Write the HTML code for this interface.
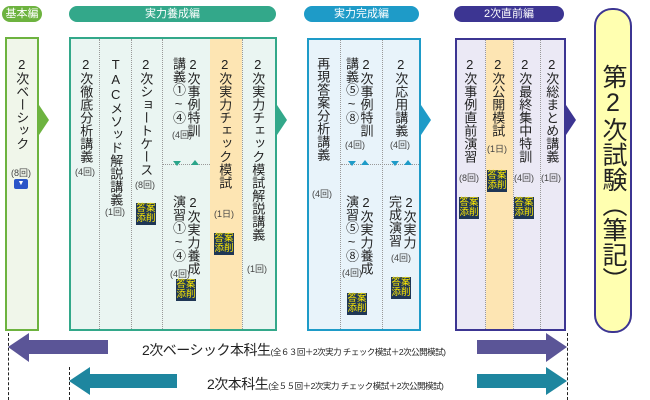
<!DOCTYPE html>
<html><head><meta charset="utf-8"><style>
body{margin:0;width:650px;height:400px;background:#fff;position:relative;overflow:hidden;font-family:"Liberation Sans","Noto Sans CJK JP",sans-serif;color:#222}
div{box-sizing:border-box}
.a{position:absolute}
.pill{position:absolute;color:#fff;font-size:11px;text-align:center;border-radius:9px;height:16px;line-height:16px}
.box{position:absolute;border:2px solid}
.v{position:absolute;writing-mode:vertical-rl;text-orientation:upright;font-size:13px;line-height:14.5px;transform:translateX(-50%);white-space:nowrap;color:#222}
.s{position:absolute;font-size:9px;color:#444;transform:translateX(-50%);white-space:nowrap}
.dv{position:absolute;top:0;bottom:0;border-left:1px dotted #999}
.dh{position:absolute;border-top:1px dotted #999;height:0}
.bd{position:absolute;width:20px;height:22px;background:#1f3655;color:#ffeb00;font-size:9.5px;line-height:10.5px;text-align:center;padding-top:0.5px;transform:translateX(-50%)}
.tri{position:absolute;width:0;height:0}
</style></head><body>
<div class="pill" style="left:2px;top:6px;width:40px;background:#6db33f">基本編</div>
<div class="pill" style="left:69px;top:6px;width:207px;background:#33a88a">実力養成編</div>
<div class="pill" style="left:304px;top:6px;width:115px;background:#1e9bc8">実力完成編</div>
<div class="pill" style="left:454px;top:6px;width:110px;background:#3c3592">2次直前編</div>

<div class="box" style="left:5px;top:37px;width:34px;height:294px;border-color:#6db33f;background:#f0f6ea"></div>
<div class="tri" style="left:39px;top:105px;border-left:10px solid #6db33f;border-top:15px solid transparent;border-bottom:15px solid transparent"></div>
<div class="v" style="left:21px;top:57px">2次ベーシック</div>
<div class="s" style="left:21px;top:166px">(8回)</div>
<div class="a" style="left:14px;top:179px;width:14px;height:10px;background:#2a55c8;border-radius:2px;color:#fff;font-size:7px;line-height:10px;text-align:center">▼</div>

<div class="box" style="left:69px;top:37px;width:208px;height:294px;border-color:#33a88a;background:#eaf5f2">
 <div class="a" style="left:139px;top:0;width:32px;bottom:0;background:#fde5b3"></div>
 <div class="dv" style="left:28px"></div><div class="dv" style="left:60px"></div><div class="dv" style="left:91px"></div><div class="dv" style="left:171px"></div>
 <div class="dh" style="left:92px;width:47px;top:125px"></div>
</div>
<div class="tri" style="left:277px;top:105px;border-left:10px solid #33a88a;border-top:15px solid transparent;border-bottom:15px solid transparent"></div>
<div class="v" style="left:85px;top:57px">2次徹底分析講義</div><div class="s" style="left:85px;top:165px">(4回)</div>
<div class="v" style="left:115px;top:57px">TACメソッド解説講義</div><div class="s" style="left:115px;top:205px">(1回)</div>
<div class="v" style="left:145px;top:57px">2次ショートケース</div><div class="s" style="left:145px;top:178px">(8回)</div>
<div class="bd" style="left:146px;top:203px">答案<br>添削</div>
<div class="v" style="left:185px;top:57px;width:29px">2次事例特訓<br>講義①~④</div><div class="s" style="left:182px;top:128px">(4回)</div>
<div class="tri" style="left:173px;top:161px;border-top:5px solid #2aa58a;border-left:4px solid transparent;border-right:4px solid transparent"></div>
<div class="tri" style="left:191px;top:160px;border-bottom:5px solid #2aa58a;border-left:4px solid transparent;border-right:4px solid transparent"></div>
<div class="v" style="left:185px;top:195px;width:29px">2次実力養成<br>演習①~④</div><div class="s" style="left:180px;top:267px">(4回)</div>
<div class="bd" style="left:186px;top:279px">答案<br>添削</div>
<div class="v" style="left:224px;top:57px">2次実力チェック模試</div><div class="s" style="left:224px;top:207px">(1日)</div>
<div class="bd" style="left:224px;top:233px">答案<br>添削</div>
<div class="v" style="left:257px;top:57px">2次実力チェック模試解説講義</div><div class="s" style="left:257px;top:262px">(1回)</div>

<div class="box" style="left:307px;top:38px;width:114px;height:293px;border-color:#1e9bc8;background:#e8f3fa">
 <div class="dv" style="left:31px"></div><div class="dv" style="left:73px"></div>
 <div class="dh" style="left:32px;width:78px;top:124px"></div>
</div>
<div class="tri" style="left:421px;top:105px;border-left:10px solid #1e9bc8;border-top:15px solid transparent;border-bottom:15px solid transparent"></div>
<div class="v" style="left:322px;top:57px">再現答案分析講義</div><div class="s" style="left:322px;top:187px">(4回)</div>
<div class="v" style="left:358px;top:57px;width:29px">2次事例特訓<br>講義⑤~⑧</div><div class="s" style="left:355px;top:138px">(4回)</div>
<div class="tri" style="left:348px;top:161px;border-top:5px solid #1e9bc8;border-left:4px solid transparent;border-right:4px solid transparent"></div>
<div class="tri" style="left:361px;top:160px;border-bottom:5px solid #1e9bc8;border-left:4px solid transparent;border-right:4px solid transparent"></div>
<div class="v" style="left:358px;top:195px;width:29px">2次実力養成<br>演習⑤~⑧</div><div class="s" style="left:352px;top:266px">(4回)</div>
<div class="bd" style="left:357px;top:293px">答案<br>添削</div>
<div class="v" style="left:400px;top:57px">2次応用講義</div><div class="s" style="left:400px;top:138px">(4回)</div>
<div class="tri" style="left:391px;top:161px;border-top:5px solid #1e9bc8;border-left:4px solid transparent;border-right:4px solid transparent"></div>
<div class="tri" style="left:404px;top:160px;border-bottom:5px solid #1e9bc8;border-left:4px solid transparent;border-right:4px solid transparent"></div>
<div class="v" style="left:401px;top:195px;width:29px">2次実力<br>完成演習</div><div class="s" style="left:401px;top:251px">(4回)</div>
<div class="bd" style="left:401px;top:277px">答案<br>添削</div>

<div class="box" style="left:455px;top:38px;width:111px;height:293px;border-color:#3c3592;background:#ebe9f5">
 <div class="a" style="left:29px;top:0;width:27px;bottom:0;background:#fde5b3"></div>
 <div class="dv" style="left:28px"></div><div class="dv" style="left:56px"></div><div class="dv" style="left:83px"></div>
</div>
<div class="tri" style="left:566px;top:105px;border-left:10px solid #3c3592;border-top:15px solid transparent;border-bottom:15px solid transparent"></div>
<div class="v" style="left:469px;top:57px">2次事例直前演習</div><div class="s" style="left:469px;top:171px">(8回)</div>
<div class="bd" style="left:469px;top:197px">答案<br>添削</div>
<div class="v" style="left:497px;top:57px">2次公開模試</div><div class="s" style="left:497px;top:142px">(1日)</div>
<div class="bd" style="left:497px;top:170px">答案<br>添削</div>
<div class="v" style="left:524px;top:57px">2次最終集中特訓</div><div class="s" style="left:524px;top:171px">(4回)</div>
<div class="bd" style="left:524px;top:197px">答案<br>添削</div>
<div class="v" style="left:551px;top:57px">2次総まとめ講義</div><div class="s" style="left:551px;top:171px">(1回)</div>

<div class="a" style="left:594px;top:8px;width:38px;height:325px;background:#ffffb0;border:2px solid #3c3592;border-radius:18px"></div>
<div class="v" style="left:613px;top:64px;font-size:25px;line-height:28px;color:#222">第2次試験（筆記）</div>

<div class="a" style="left:8px;top:333px;height:67px;border-left:1px dashed #222"></div>
<div class="a" style="left:69px;top:367px;height:33px;border-left:1px dashed #222"></div>
<div class="a" style="left:567px;top:333px;height:67px;border-left:1px dashed #222"></div>

<svg class="a" style="left:0;top:0" width="650" height="400">
 <polygon points="8,347 29,333 29,340 108,340 108,354 29,354 29,362" fill="#5b5597"/>
 <polygon points="477,340 546,340 546,333 567,347 546,362 546,354 477,354" fill="#5b5597"/>
 <polygon points="69,381 90,367 90,374 177,374 177,388 90,388 90,395" fill="#1e869f"/>
 <polygon points="477,374 546,374 546,367 567,381 546,395 546,388 477,388" fill="#1e869f"/>
</svg>
<div class="a" style="left:142px;top:340px;font-size:14px;white-space:nowrap;letter-spacing:-0.5px">2次ベーシック本科生<span style="font-size:8.5px">(全６３回＋2次実力 チェック模試＋2次公開模試)</span></div>
<div class="a" style="left:207px;top:374px;font-size:14px;white-space:nowrap;letter-spacing:-0.5px">2次本科生<span style="font-size:8.5px">(全５５回＋2次実力 チェック模試＋2次公開模試)</span></div>
</body></html>
